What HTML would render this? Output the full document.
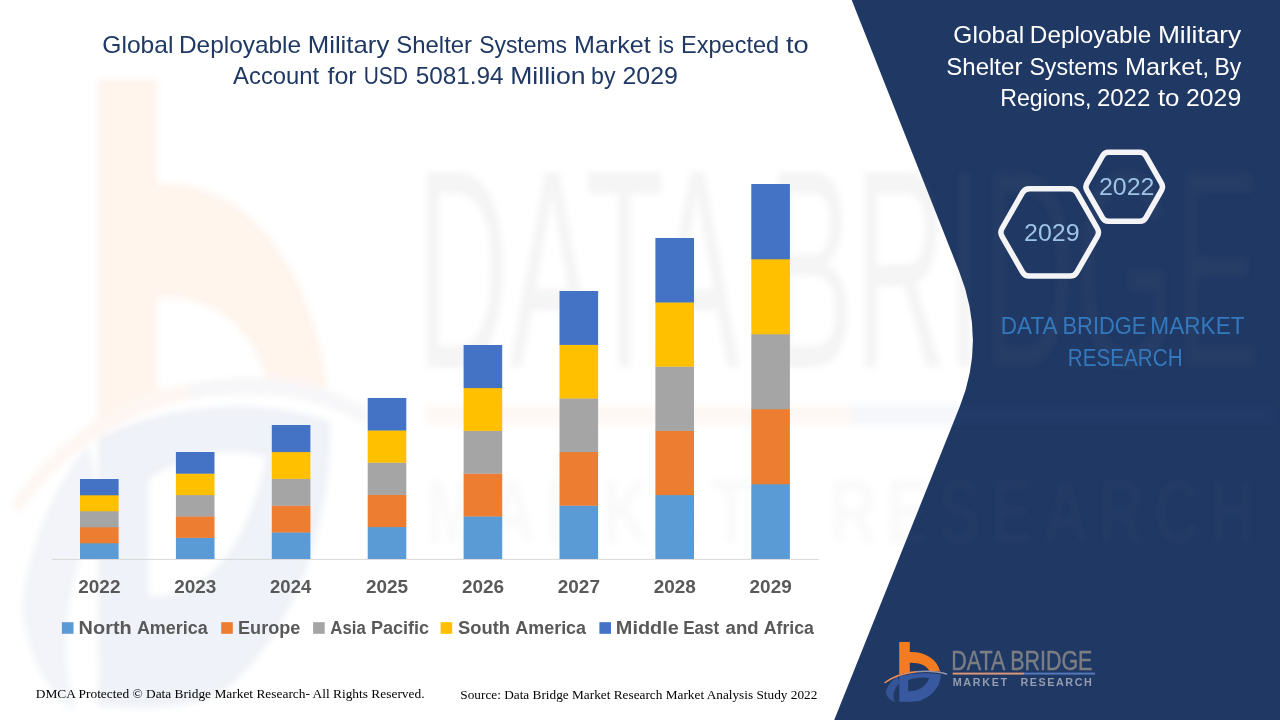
<!DOCTYPE html>
<html><head><meta charset="utf-8"><title>Global Deployable Military Shelter Systems Market</title>
<style>html,body{margin:0;padding:0;background:#fff;overflow:hidden}svg{display:block}
text{font-family:"Liberation Sans",sans-serif}.serif{font-family:"Liberation Serif",serif}</style></head><body>
<svg width="1280" height="720" viewBox="0 0 1280 720">
<defs>
<filter id="blur2" x="-5%" y="-5%" width="110%" height="110%"><feGaussianBlur stdDeviation="3"/></filter>
<g id="logoIcon">
<path fill="#38599F" d="M899.2,676.2 C912,672.8 928,672.3 940.6,674.6 C941.2,684 934,696 920,700.8 C913,702.2 905,701.9 899.4,701.7 Z M908.2,680.2 L908.2,691.2 C916,691.8 925.5,688 929.2,678 C922,676.8 914,677.8 908.2,680.2 Z"/>
<path fill="#38599F" d="M897.6,676.8 C890,681.5 886.3,688 885.8,692.5 C886.8,697.5 891,700.8 895.2,702.2 C892.2,697 893,690 899.6,683 Z" opacity="0.85"/>
<path fill="#F47C20" d="M899.2,642 L909.8,642 L909.8,652 C925,651.5 937,659 940.2,671.5 C930,670.9 922,671 913,671.8 C908,672.4 903,673.4 899.2,674.6 Z M909.8,662.8 L909.8,671.7 C916,670.9 923,670.8 929.2,671 C927.5,666 920,662.6 909.8,662.8 Z"/>
<path fill="none" stroke="#F0905A" stroke-width="1.5" stroke-linecap="round" d="M885,682.5 C893,676.5 904,673 916,671.7"/>
<path fill="none" stroke="#9A93A8" stroke-width="1.5" stroke-linecap="round" d="M916,671.7 C928,670.6 938,671.4 946.5,674"/>
</g>
<g id="logoText">
<text x="951.32" y="670.0" textLength="141.07" lengthAdjust="spacingAndGlyphs" font-size="27" fill="#7C7E84" stroke="#7C7E84" stroke-width="0.45">DATA BRIDGE</text>
<rect x="952.7" y="672.6" width="71.3" height="2" fill="#D9977A"/>
<rect x="1024" y="672.6" width="71" height="2" fill="#5578BC"/>
<g font-size="10.8" font-weight="bold" fill="#949CAE">
<text x="952.7" y="686" textLength="54.4" lengthAdjust="spacing">MARKET</text>
<text x="1020.5" y="686" textLength="71.3" lengthAdjust="spacing">RESEARCH</text>
</g>
</g>
</defs>
<rect width="1280" height="720" fill="#ffffff"/>
<path fill="#1F3864" d="M851.7,0 L959,271 Q986.3,340 960,406 L834.2,720 L1280,720 L1280,0 Z"/>
<g opacity="0.08" filter="url(#blur2)">
<g transform="translate(97.8,79) scale(5.61,10.5) translate(-899.2,-642)"><use href="#logoIcon"/></g>
<g transform="translate(425.8,367) scale(5.967,10.5) translate(-952.7,-670)"><text x="951.12" y="670.0" textLength="141.48" lengthAdjust="spacingAndGlyphs" font-size="27" fill="#7C7E84">DATA BRIDGE</text></g>
<rect x="425.8" y="405" width="425.4" height="20" fill="#E8894F" opacity="0.7"/>
<rect x="851.2" y="405" width="424" height="20" fill="#4A6CB0" opacity="0.7"/>
<g transform="translate(425.8,543) scale(5.967,8.4) translate(-952.7,-686)" font-size="10.8" font-weight="bold" fill="#8A8A8A" opacity="0.55">
<text x="952.7" y="686" textLength="54.4" lengthAdjust="spacing">MARKET</text>
<text x="1020.5" y="686" textLength="71.3" lengthAdjust="spacing">RESEARCH</text>
</g>
</g>
<g fill="#1F3864" font-size="24">
<text x="102.38" y="52.7" textLength="70.99" lengthAdjust="spacingAndGlyphs">Global</text><text x="178.98" y="52.7" textLength="122.17" lengthAdjust="spacingAndGlyphs">Deployable</text><text x="307.73" y="52.7" textLength="81.57" lengthAdjust="spacingAndGlyphs">Military</text><text x="396.30" y="52.7" textLength="75.79" lengthAdjust="spacingAndGlyphs">Shelter</text><text x="479.14" y="52.7" textLength="87.96" lengthAdjust="spacingAndGlyphs">Systems</text><text x="574.05" y="52.7" textLength="76.70" lengthAdjust="spacingAndGlyphs">Market</text><text x="658.19" y="52.7" textLength="15.81" lengthAdjust="spacingAndGlyphs">is</text><text x="681.02" y="52.7" textLength="98.20" lengthAdjust="spacingAndGlyphs">Expected</text><text x="785.90" y="52.7" textLength="22.69" lengthAdjust="spacingAndGlyphs">to</text>
<text x="233.10" y="84.4" textLength="86.07" lengthAdjust="spacingAndGlyphs">Account</text><text x="327.50" y="84.4" textLength="29.09" lengthAdjust="spacingAndGlyphs">for</text><text x="363.73" y="84.4" textLength="44.26" lengthAdjust="spacingAndGlyphs">USD</text><text x="415.70" y="84.4" textLength="87.95" lengthAdjust="spacingAndGlyphs">5081.94</text><text x="510.19" y="84.4" textLength="75.30" lengthAdjust="spacingAndGlyphs">Million</text><text x="591.03" y="84.4" textLength="24.47" lengthAdjust="spacingAndGlyphs">by</text><text x="622.46" y="84.4" textLength="55.40" lengthAdjust="spacingAndGlyphs">2029</text>
</g>
<g fill="#ffffff" font-size="24">
<text x="953.38" y="42.7" textLength="70.88" lengthAdjust="spacingAndGlyphs">Global</text><text x="1029.89" y="42.7" textLength="121.46" lengthAdjust="spacingAndGlyphs">Deployable</text><text x="1157.90" y="42.7" textLength="83.40" lengthAdjust="spacingAndGlyphs">Military</text>
<text x="946.30" y="75.1" textLength="76.09" lengthAdjust="spacingAndGlyphs">Shelter</text><text x="1029.44" y="75.1" textLength="88.56" lengthAdjust="spacingAndGlyphs">Systems</text><text x="1124.95" y="75.1" textLength="84.31" lengthAdjust="spacingAndGlyphs">Market,</text><text x="1214.54" y="75.1" textLength="26.76" lengthAdjust="spacingAndGlyphs">By</text>
<text x="1000.24" y="106.1" textLength="91.27" lengthAdjust="spacingAndGlyphs">Regions,</text><text x="1096.90" y="106.1" textLength="53.35" lengthAdjust="spacingAndGlyphs">2022</text><text x="1157.90" y="106.1" textLength="21.57" lengthAdjust="spacingAndGlyphs">to</text><text x="1186.07" y="106.1" textLength="55.09" lengthAdjust="spacingAndGlyphs">2029</text>
</g>
<path d="M1086.88,190.27 Q1084.90,186.80 1086.88,183.33 L1102.57,155.82 Q1104.55,152.35 1108.55,152.35 L1139.85,152.35 Q1143.85,152.35 1145.83,155.82 L1161.52,183.33 Q1163.50,186.80 1161.52,190.27 L1145.83,217.78 Q1143.85,221.25 1139.85,221.25 L1108.55,221.25 Q1104.55,221.25 1102.57,217.78 Z" fill="none" stroke="#F4F4F6" stroke-width="5.5" stroke-linejoin="round"/>
<path d="M1002.03,236.31 Q999.80,232.40 1002.03,228.49 L1022.52,192.61 Q1024.75,188.70 1029.25,188.70 L1070.15,188.70 Q1074.65,188.70 1076.88,192.61 L1097.37,228.49 Q1099.60,232.40 1097.37,236.31 L1076.88,272.19 Q1074.65,276.10 1070.15,276.10 L1029.25,276.10 Q1024.75,276.10 1022.52,272.19 Z" fill="none" stroke="#F4F4F6" stroke-width="5.5" stroke-linejoin="round"/>
<g fill="#9DC3E6" font-size="23.6">
<text x="1098.94" y="194.9" textLength="55.55" lengthAdjust="spacingAndGlyphs">2022</text>
<text x="1024.04" y="240.7" textLength="55.55" lengthAdjust="spacingAndGlyphs">2029</text>
</g>
<g fill="#3478BD" font-size="24.4">
<text x="1000.85" y="334.0" textLength="56.77" lengthAdjust="spacingAndGlyphs">DATA</text><text x="1062.50" y="334.0" textLength="83.94" lengthAdjust="spacingAndGlyphs">BRIDGE</text><text x="1150.35" y="334.0" textLength="94.16" lengthAdjust="spacingAndGlyphs">MARKET</text>
<text x="1067.81" y="365.7" textLength="114.76" lengthAdjust="spacingAndGlyphs">RESEARCH</text>
</g>
<rect x="51.7" y="558.9" width="767.1" height="1" fill="#D9D9D9"/>
<rect x="80.00" y="543.00" width="38.60" height="16.00" fill="#5B9BD5"/>
<rect x="80.00" y="527.00" width="38.60" height="16.30" fill="#ED7D31"/>
<rect x="80.00" y="511.00" width="38.60" height="16.30" fill="#A5A5A5"/>
<rect x="80.00" y="495.00" width="38.60" height="16.30" fill="#FFC000"/>
<rect x="80.00" y="479.00" width="38.60" height="16.30" fill="#4472C4"/>
<rect x="175.90" y="537.60" width="38.60" height="21.40" fill="#5B9BD5"/>
<rect x="175.90" y="516.20" width="38.60" height="21.70" fill="#ED7D31"/>
<rect x="175.90" y="494.80" width="38.60" height="21.70" fill="#A5A5A5"/>
<rect x="175.90" y="473.40" width="38.60" height="21.70" fill="#FFC000"/>
<rect x="175.90" y="452.00" width="38.60" height="21.70" fill="#4472C4"/>
<rect x="271.80" y="532.20" width="38.60" height="26.80" fill="#5B9BD5"/>
<rect x="271.80" y="505.40" width="38.60" height="27.10" fill="#ED7D31"/>
<rect x="271.80" y="478.60" width="38.60" height="27.10" fill="#A5A5A5"/>
<rect x="271.80" y="451.80" width="38.60" height="27.10" fill="#FFC000"/>
<rect x="271.80" y="425.00" width="38.60" height="27.10" fill="#4472C4"/>
<rect x="367.70" y="526.80" width="38.60" height="32.20" fill="#5B9BD5"/>
<rect x="367.70" y="494.60" width="38.60" height="32.50" fill="#ED7D31"/>
<rect x="367.70" y="462.40" width="38.60" height="32.50" fill="#A5A5A5"/>
<rect x="367.70" y="430.20" width="38.60" height="32.50" fill="#FFC000"/>
<rect x="367.70" y="398.00" width="38.60" height="32.50" fill="#4472C4"/>
<rect x="463.60" y="516.20" width="38.60" height="42.80" fill="#5B9BD5"/>
<rect x="463.60" y="473.40" width="38.60" height="43.10" fill="#ED7D31"/>
<rect x="463.60" y="430.60" width="38.60" height="43.10" fill="#A5A5A5"/>
<rect x="463.60" y="387.80" width="38.60" height="43.10" fill="#FFC000"/>
<rect x="463.60" y="345.00" width="38.60" height="43.10" fill="#4472C4"/>
<rect x="559.50" y="505.40" width="38.60" height="53.60" fill="#5B9BD5"/>
<rect x="559.50" y="451.80" width="38.60" height="53.90" fill="#ED7D31"/>
<rect x="559.50" y="398.20" width="38.60" height="53.90" fill="#A5A5A5"/>
<rect x="559.50" y="344.60" width="38.60" height="53.90" fill="#FFC000"/>
<rect x="559.50" y="291.00" width="38.60" height="53.90" fill="#4472C4"/>
<rect x="655.40" y="494.80" width="38.60" height="64.20" fill="#5B9BD5"/>
<rect x="655.40" y="430.60" width="38.60" height="64.50" fill="#ED7D31"/>
<rect x="655.40" y="366.40" width="38.60" height="64.50" fill="#A5A5A5"/>
<rect x="655.40" y="302.20" width="38.60" height="64.50" fill="#FFC000"/>
<rect x="655.40" y="238.00" width="38.60" height="64.50" fill="#4472C4"/>
<rect x="751.30" y="484.00" width="38.60" height="75.00" fill="#5B9BD5"/>
<rect x="751.30" y="409.00" width="38.60" height="75.30" fill="#ED7D31"/>
<rect x="751.30" y="334.00" width="38.60" height="75.30" fill="#A5A5A5"/>
<rect x="751.30" y="259.00" width="38.60" height="75.30" fill="#FFC000"/>
<rect x="751.30" y="184.00" width="38.60" height="75.30" fill="#4472C4"/>
<g fill="#595959" font-size="18.2" font-weight="bold">
<text x="78.30" y="592.8" textLength="42.12" lengthAdjust="spacingAndGlyphs">2022</text>
<text x="174.20" y="592.8" textLength="42.12" lengthAdjust="spacingAndGlyphs">2023</text>
<text x="270.10" y="592.8" textLength="41.10" lengthAdjust="spacingAndGlyphs">2024</text>
<text x="366.00" y="592.8" textLength="42.12" lengthAdjust="spacingAndGlyphs">2025</text>
<text x="461.90" y="592.8" textLength="42.12" lengthAdjust="spacingAndGlyphs">2026</text>
<text x="557.80" y="592.8" textLength="42.12" lengthAdjust="spacingAndGlyphs">2027</text>
<text x="653.70" y="592.8" textLength="42.12" lengthAdjust="spacingAndGlyphs">2028</text>
<text x="749.60" y="592.8" textLength="42.12" lengthAdjust="spacingAndGlyphs">2029</text>
</g>
<g fill="#595959" font-size="18.8" font-weight="bold">
<rect x="61.9" y="622.2" width="11.6" height="11.6" fill="#5B9BD5"/>
<text x="78.64" y="633.9" textLength="53.06" lengthAdjust="spacingAndGlyphs">North</text><text x="136.90" y="633.9" textLength="70.97" lengthAdjust="spacingAndGlyphs">America</text>
<rect x="221.2" y="622.2" width="11.6" height="11.6" fill="#ED7D31"/>
<text x="238.04" y="633.9" textLength="62.39" lengthAdjust="spacingAndGlyphs">Europe</text>
<rect x="313.1" y="622.2" width="11.6" height="11.6" fill="#A5A5A5"/>
<text x="330.30" y="633.9" textLength="35.40" lengthAdjust="spacingAndGlyphs">Asia</text><text x="370.94" y="633.9" textLength="58.24" lengthAdjust="spacingAndGlyphs">Pacific</text>
<rect x="440.6" y="622.2" width="11.6" height="11.6" fill="#FFC000"/>
<text x="458.10" y="633.9" textLength="51.96" lengthAdjust="spacingAndGlyphs">South</text><text x="515.30" y="633.9" textLength="70.77" lengthAdjust="spacingAndGlyphs">America</text>
<rect x="599.4" y="622.2" width="11.6" height="11.6" fill="#4472C4"/>
<text x="615.84" y="633.9" textLength="63.03" lengthAdjust="spacingAndGlyphs">Middle</text><text x="683.19" y="633.9" textLength="36.03" lengthAdjust="spacingAndGlyphs">East</text><text x="725.60" y="633.9" textLength="32.92" lengthAdjust="spacingAndGlyphs">and</text><text x="763.75" y="633.9" textLength="50.13" lengthAdjust="spacingAndGlyphs">Africa</text>
</g>
<g class="serif" fill="#000" font-size="13.33">
<text x="35.75" y="698.0" textLength="388.78" lengthAdjust="spacingAndGlyphs" class="serif">DMCA Protected © Data Bridge Market Research- All Rights Reserved.</text>
<text x="460.30" y="699.3" textLength="357.06" lengthAdjust="spacingAndGlyphs" class="serif">Source: Data Bridge Market Research Market Analysis Study 2022</text>
</g>
<use href="#logoIcon"/><use href="#logoText"/>
</svg></body></html>
